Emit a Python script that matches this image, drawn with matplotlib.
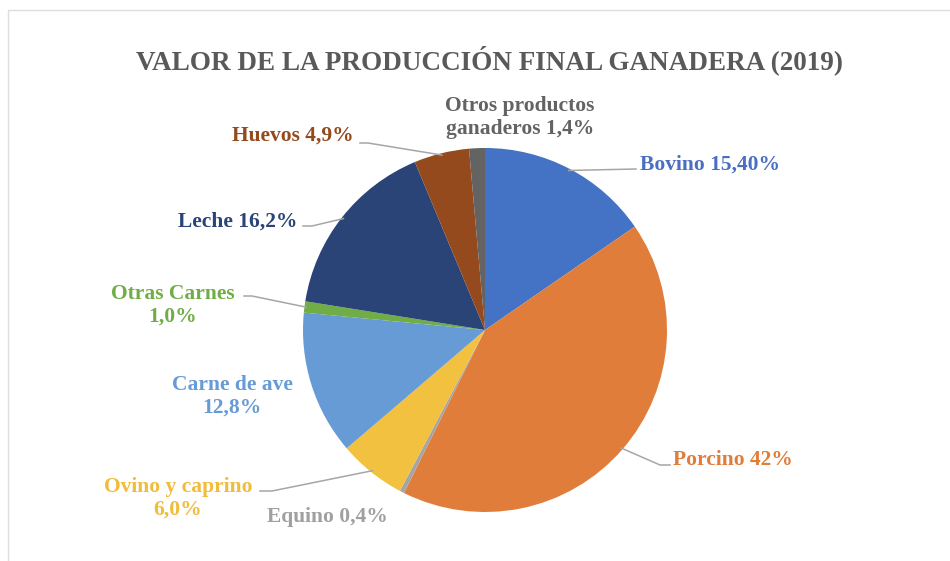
import numpy as np
import matplotlib.pyplot as plt
from matplotlib.patches import Wedge

plt.rcParams['font.family'] = ['Liberation Serif', 'DejaVu Serif']

# datos (porcentaje del valor de la producción final ganadera, 2019)
labels = ["Bovino 15,40%", "Porcino 42%", "Equino 0,4%", "Ovino y caprino\n6,0%",
          "Carne de ave\n12,8%", "Otras Carnes\n1,0%", "Leche 16,2%", "Huevos 4,9%",
          "Otros productos\nganaderos 1,4%"]
values = [15.4, 42.0, 0.4, 6.0, 12.8, 1.0, 16.2, 4.9, 1.4]
colors = ["#4472C4", "#E07D3A", "#A5A5A5", "#F3C140", "#679BD6", "#70AD47",
          "#2A4478", "#944A1C", "#636363"]
text_colors = ["#4A6FC2", "#E07D3A", "#A0A0A0", "#F0BC3A", "#679BD6", "#70AD47",
               "#2A4478", "#944A1C", "#636363"]

# posiciones de las etiquetas (px en la imagen) y alineación
lab_px = [(640, 165, 'left'), (673, 460, 'left'), (327, 517, 'center'),
          (178, 498, 'center'), (232, 396, 'center'), (173, 305, 'center'),
          (238, 222, 'center'), (293, 136, 'center'), (520, 117, 'center')]
# líneas guía: (extremo junto al texto, codo)
leader_px = [((636, 169), (636, 169)), ((670, 465), (660, 465)), None,
             ((260, 491), (272, 491)), None, ((244, 296), (252, 296)),
             ((303, 226), (312, 226)), ((360, 143), (368, 143)), None]

W, H = 950, 561
cx, cy, R = 485, 330, 182

fig = plt.figure(figsize=(9.5, 5.61), dpi=100)
fig.patch.set_facecolor('white')
ax = fig.add_axes([0, 0, 1, 1])
ax.set_xlim(0, W)
ax.set_ylim(H, 0)
ax.axis('off')

# marco suave del gráfico
ax.plot([8, 8, W], [H, 10, 10], color='#DDDDDD', lw=1)

# sectores en sentido horario desde las 12 (eje y invertido -> ángulos negados)
start = 90.0
tot = sum(values)
mids = []
for v, c in zip(values, colors):
    th1 = start - 360.0 * v / tot
    ax.add_patch(Wedge((cx, cy), R, -start, -th1, facecolor=c, edgecolor='none'))
    mids.append(np.radians((th1 + start) / 2))
    start = th1

for i, (lab, (x, y, ha)) in enumerate(zip(labels, lab_px)):
    ax.text(x, y, lab, ha=ha, va='center', fontsize=15.5, fontweight='bold',
            color=text_colors[i], linespacing=1.2)
    if leader_px[i] is not None:
        m = mids[i]
        ex = cx + R * 0.99 * np.cos(m)
        ey = cy - R * 0.99 * np.sin(m)
        (lx, ly), (kx, ky) = leader_px[i]
        ax.plot([lx, kx, ex], [ly, ky, ey], color='#A6A6A6', lw=1.1)

ax.text(490, 60, "VALOR DE LA PRODUCCIÓN FINAL GANADERA (2019)", ha='center',
        va='center', fontsize=19.5, fontweight='bold', color='#595959')

fig.savefig('out.png', dpi=100)
